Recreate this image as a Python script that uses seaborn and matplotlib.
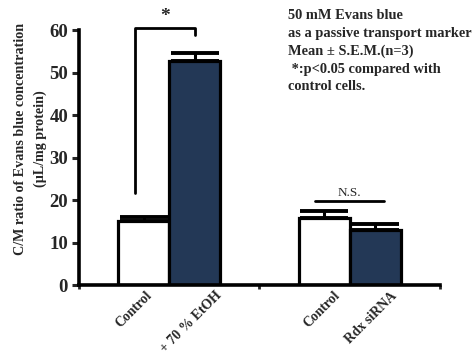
import pandas as pd
import numpy as np
import seaborn as sns
import matplotlib.pyplot as plt
import matplotlib.transforms as mtransforms

# data
groups = ['A', 'A', 'B', 'B']
conds = ['Control', 'Treated', 'Control', 'Treated']
labels = ['Control', '+ 70 % EtOH', 'Control', 'Rdx siRNA']
means = [15.0, 52.7, 15.7, 12.9]
sems = [1.0, 2.0, 1.7, 1.4]

df = pd.DataFrame({'group': groups, 'cond': conds, 'value': means})

sns.set_style('white')
plt.rcParams['font.family'] = ['Liberation Serif', 'DejaVu Serif']
plt.rcParams['font.weight'] = 'bold'

fig = plt.figure(figsize=(4.77, 3.55), dpi=100)
ax = fig.add_axes([0.166, 0.197, 0.756, 0.718])

sns.barplot(data=df, x='group', y='value', hue='cond', palette=['white', '#1a365f'],
            width=0.566, edgecolor='black', linewidth=2.3, legend=False, ax=ax,
            errorbar=None)

# error bars (upper only) from bar positions
bars = sorted(ax.patches, key=lambda p: p.get_x())
xs = [p.get_x() + p.get_width() / 2 for p in bars]
for x, m, s in zip(xs, means, sems):
    ax.errorbar(x, m, yerr=[[0], [s]], fmt='none', ecolor='black',
                elinewidth=2.2, capsize=17, capthick=2.8, zorder=1)

ax.set_xlim(-0.5, 1.5)
ax.set_ylim(0, 60)
ax.set_yticks(range(0, 61, 10))
ax.tick_params(axis='y', direction='out', length=5, width=2.2, labelsize=13.5, pad=3, left=True)
for t in ax.get_yticklabels():
    t.set_fontweight('bold')

ax.set_xticks(xs)
ax.set_xticklabels(labels, rotation=45, ha='right', rotation_mode='anchor',
                   fontsize=9.9, fontweight='bold')
ax.tick_params(axis='x', length=0, pad=3)
# labels sit a little right of the bar centres, as in the original
shifts = [2, 20, 9, 15]
for t, dx in zip(ax.get_xticklabels(), shifts):
    t.set_transform(t.get_transform() + mtransforms.ScaledTranslation(dx / 100, 0, fig.dpi_scale_trans))
ax.set_xticks([-0.5, 0.5, 1.5], minor=True)
ax.tick_params(axis='x', which='minor', direction='out', length=3, width=2, bottom=True)
ax.set_xlabel('')
ax.set_ylabel('C/M ratio of Evans blue concentration\n(\u03bcL/mg protein)',
              fontsize=10.2, fontweight='bold', linespacing=1.7)
ax.yaxis.set_label_coords(-0.088, 0.575)

for sp in ['top', 'right']:
    ax.spines[sp].set_visible(False)
for sp in ['left', 'bottom']:
    ax.spines[sp].set_linewidth(2.6)
    ax.spines[sp].set_color('black')

# significance bracket
x1 = xs[0] - 0.05
x2 = xs[1]
ax.plot([x1, x1, x2, x2], [21.7, 60.6, 60.6, 58.8], color='black', lw=2, clip_on=False)
ax.text((x1 + x2) / 2, 61.3, '*', ha='center', va='bottom', fontsize=14, fontweight='bold')

# N.S.
ax.plot([xs[2] - 0.05, xs[3] + 0.05], [19.8, 19.8], color='black', lw=2)
ax.text((xs[2] + xs[3]) / 2, 20.3, 'N.S.', ha='center', va='bottom', fontsize=9.5, fontweight='normal')

fig.text(0.604, 0.975, '50 mM Evans blue\nas a passive transport marker\nMean \u00b1 S.E.M.(n=3)\n *:p<0.05 compared with\ncontrol cells.',
         ha='left', va='top', fontsize=10.4, fontweight='bold', linespacing=1.47,
         family=['Liberation Serif', 'DejaVu Serif'])

fig.savefig('out.png', dpi=100)
